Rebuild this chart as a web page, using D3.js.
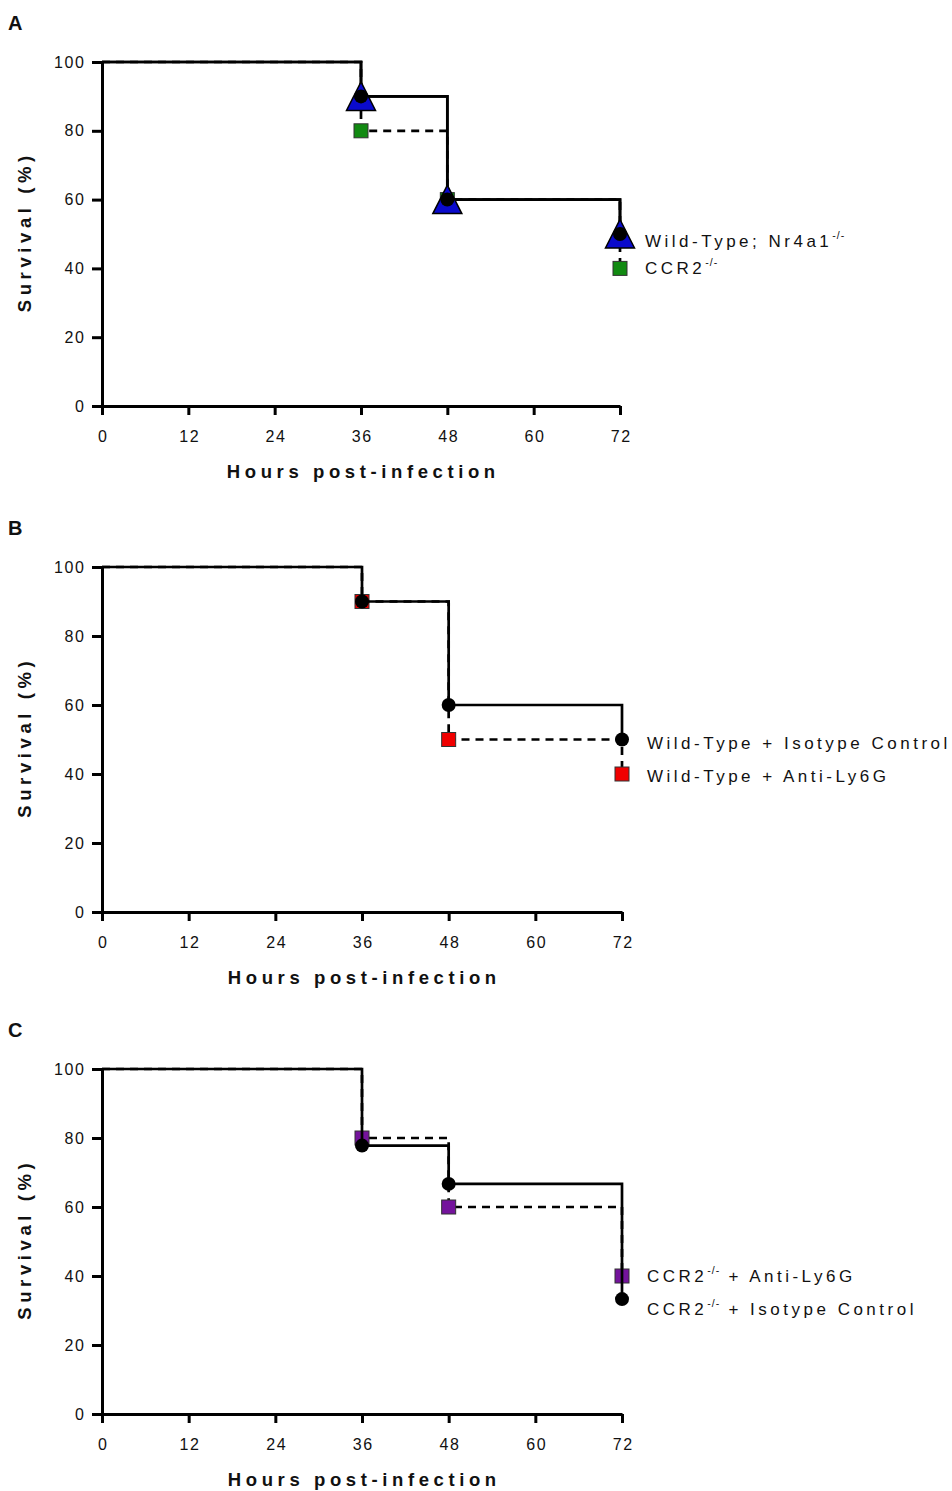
<!DOCTYPE html>
<html lang="en">
<head>
<meta charset="UTF-8">
<title>Survival after infection</title>
<script src="https://d3js.org/d3.v7.min.js"></script>
<style>
  body { margin: 0; background: #fff; }
  text { font-family: "Liberation Sans", Arial, sans-serif; fill: #111; }
  .tick text { font-size: 16px; letter-spacing: 1.6px; }
  .axis-title { font-size: 18.5px; font-weight: bold; letter-spacing: 4.6px; }
  .panel-letter { font-size: 20px; font-weight: bold; }
  .label { font-size: 17px; letter-spacing: 3.5px; }
</style>
</head>
<body>
<svg id="chart"></svg>
<script>
// time points (hours) where survival changes
const hours = [0, 36, 48, 72];
const xTicks = [0, 12, 24, 36, 48, 60, 72];
const yTicks = [0, 20, 40, 60, 80, 100];
const panelLetters = ["A", "B", "C"];

// panel A
const wtSurvival = [100, 90, 60, 50];
const nr4a1Survival = [100, 90, 60, 50];
const ccr2Survival = [100, 80, 60, 40];
// panel B
const wtIsoSurvival = [100, 90, 60, 50];
const wtAntiSurvival = [100, 90, 50, 40];
// panel C
const ccr2AntiSurvival = [100, 80, 60, 40];
const ccr2IsoSurvival = [100, 77.8, 66.7, 33.3];

const svg = d3.select("#chart").attr("width", 952).attr("height", 1491);

const panels = [
  {
    top: 62, bottom: 406, right: 620,
    series: [
      { values: ccr2Survival, dash: true, symbol: "square", fill: "#118a11", label: ["CCR2", "-/-", ""], labelDy: 0 },
      { values: nr4a1Survival, dash: false, symbol: "triangle", fill: "#0a0acc", label: null },
      { values: wtSurvival, dash: false, symbol: "circle", fill: "#000", label: ["Wild-Type; Nr4a1", "-/-", ""], labelDy: 7 }
    ]
  },
  {
    top: 567, bottom: 912, right: 622,
    series: [
      { values: wtAntiSurvival, dash: true, symbol: "square", fill: "#f00000", label: ["Wild-Type + Anti-Ly6G", "", ""], labelDy: 2 },
      { values: wtIsoSurvival, dash: false, symbol: "circle", fill: "#000", label: ["Wild-Type + Isotype Control", "", ""], labelDy: 3 }
    ]
  },
  {
    top: 1069, bottom: 1414, right: 622,
    series: [
      { values: ccr2AntiSurvival, dash: true, symbol: "square", fill: "#74139c", label: ["CCR2", "-/-", " + Anti-Ly6G"], labelDy: 0 },
      { values: ccr2IsoSurvival, dash: false, symbol: "circle", fill: "#000", label: ["CCR2", "-/-", " + Isotype Control"], labelDy: 10 }
    ]
  }
];

function drawMarkers(g, s, x, y) {
  const pts = hours.slice(1).map((h, i) => [x(h), y(s.values[i + 1])]);
  const m = g.append("g").selectAll("g").data(pts).join("g")
    .attr("transform", d => `translate(${d[0]},${d[1]})`);
  if (s.symbol === "square") {
    m.append("rect").attr("x", -7).attr("y", -7).attr("width", 14).attr("height", 14)
      .attr("fill", s.fill).attr("stroke", "#333").attr("stroke-width", 1);
  } else if (s.symbol === "triangle") {
    m.append("path").attr("d", "M0,-14.5L14.5,14L-14.5,14Z")
      .attr("fill", s.fill).attr("stroke", "#000").attr("stroke-width", 1.5)
      .attr("stroke-linejoin", "miter");
  } else {
    m.append("circle").attr("r", 7).attr("fill", s.fill);
  }
}

panels.forEach((p, pi) => {
  const x = d3.scaleLinear().domain([0, 72]).range([102, p.right]);
  const y = d3.scaleLinear().domain([0, 100]).range([p.bottom, p.top]);
  const g = svg.append("g");

  // axes
  const xAxis = g.append("g")
    .attr("transform", `translate(0,${p.bottom})`)
    .call(d3.axisBottom(x).tickValues(xTicks).tickSizeInner(9).tickSizeOuter(0).tickPadding(16));
  const yAxis = g.append("g")
    .attr("transform", `translate(102,0)`)
    .call(d3.axisLeft(y).tickValues(yTicks).tickSizeInner(10).tickSizeOuter(0).tickPadding(8));
  [xAxis, yAxis].forEach(a => {
    a.select(".domain").attr("stroke", "#000").attr("stroke-width", 3);
    a.selectAll(".tick line").attr("stroke", "#000").attr("stroke-width", 3);
    a.selectAll(".tick text").attr("fill", "#111");
  });
  xAxis.selectAll(".tick text").attr("dx", 0.8);
  yAxis.selectAll(".tick text").attr("dx", 1.6);

  // titles
  g.append("text").attr("class", "axis-title")
    .attr("x", (102 + p.right) / 2 + 2.3).attr("y", p.bottom + 72)
    .attr("text-anchor", "middle").text("Hours post-infection");
  g.append("text").attr("class", "axis-title")
    .attr("text-anchor", "middle")
    .attr("transform", `translate(31,${(p.top + p.bottom) / 2 - 2.3}) rotate(-90)`)
    .text("Survival (%)");
  g.append("text").attr("class", "panel-letter")
    .attr("x", 8).attr("y", p.top - 32).text(panelLetters[pi]);

  const line = d3.line()
    .x((d, i) => x(hours[i]))
    .y(d => y(d))
    .curve(d3.curveStepAfter);

  const dashed = p.series.filter(s => s.dash);
  const solid = p.series.filter(s => !s.dash);

  dashed.forEach(s => {
    g.append("path").datum(s.values).attr("d", line)
      .attr("fill", "none").attr("stroke", "#000").attr("stroke-width", 2.7)
      .attr("stroke-dasharray", "8,6");
    drawMarkers(g, s, x, y);
  });
  solid.forEach(s => {
    g.append("path").datum(s.values).attr("d", line)
      .attr("fill", "none").attr("stroke", "#000").attr("stroke-width", 2.7);
  });
  solid.forEach(s => drawMarkers(g, s, x, y));

  // end-of-line labels
  p.series.filter(s => s.label).forEach(s => {
    const last = s.values[s.values.length - 1];
    const t = g.append("text").attr("class", "label")
      .attr("x", x(72) + 25).attr("y", y(last) + 6 + s.labelDy);
    t.append("tspan").text(s.label[0]);
    if (s.label[1]) {
      t.append("tspan").attr("dy", -8).style("font-size", "10.5px").style("letter-spacing", "1px").text(s.label[1]);
      if (s.label[2]) t.append("tspan").attr("dy", 8).text(s.label[2]);
    }
  });
});
</script>
</body>
</html>
